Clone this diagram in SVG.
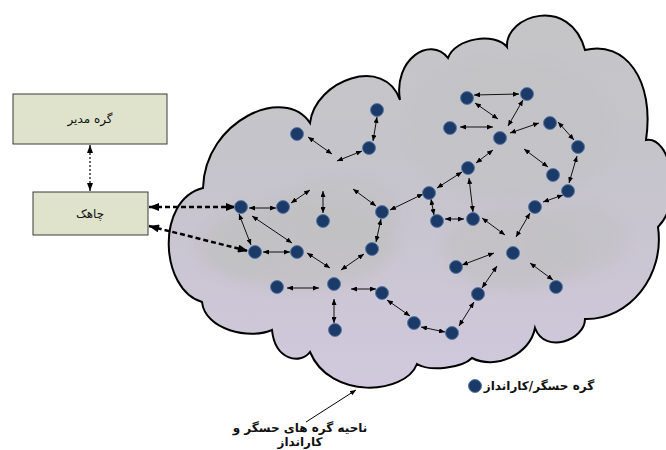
<svg xmlns="http://www.w3.org/2000/svg" width="666" height="450" viewBox="0 0 666 450">
<defs>
<linearGradient id="cloudGrad" x1="0" y1="0" x2="0" y2="1">
<stop offset="0" stop-color="#c5c5c7"/>
<stop offset="0.45" stop-color="#c6c4cc"/>
<stop offset="1" stop-color="#d1c8dd"/>
</linearGradient>
<filter id="blur" x="-30%" y="-30%" width="160%" height="160%">
<feGaussianBlur stdDeviation="6"/>
</filter>
<clipPath id="cloudClip">
<path id="cloudShape" d="M203,188 C205,120 285,85 310,123 C315,80 385,55 400,100 C393,60 430,35 448,58 C455,38 495,32 507,47 C505,15 570,-5 585,50 C625,40 655,80 646,140 C670,135 685,200 658,227 C665,275 630,320 585,319 C585,340 545,355 535,328 C530,355 495,370 472,358 C462,368 430,372 417,364 C405,395 330,400 310,352 C300,365 275,360 272,330 C250,340 205,330 202,302 C160,290 155,200 203,188 Z"/>
</clipPath>
<marker id="ah" viewBox="0 0 6 5" markerWidth="6" markerHeight="5" refX="6" refY="2.5" markerUnits="userSpaceOnUse" orient="auto-start-reverse">
<path d="M0,0 L6,2.5 L0,5 z" fill="#000"/>
</marker>
<marker id="ahBig" viewBox="0 0 10 8" markerWidth="11" markerHeight="8" refX="10" refY="4" markerUnits="userSpaceOnUse" orient="auto-start-reverse">
<path d="M0,0 L10,4 L0,8 z" fill="#000"/>
</marker>
<marker id="ahMid" viewBox="0 0 8 6" markerWidth="8" markerHeight="6" refX="8" refY="3" markerUnits="userSpaceOnUse" orient="auto-start-reverse">
<path d="M0,0 L8,3 L0,6 z" fill="#000"/>
</marker>
<style>
.box{fill:#dfe3cb;stroke:#3a3a3a;stroke-width:1}
.lbl{font-family:"DejaVu Sans","Noto Sans",sans-serif;font-size:12px;fill:#111;text-anchor:middle}
.bold{font-weight:bold}
.node{fill:#1b3a68;stroke:#5a7aa6;stroke-width:1}
.link{stroke:#111;stroke-width:1;fill:none;marker-start:url(#ah);marker-end:url(#ah)}
.dash{stroke:#000;stroke-width:2.5;fill:none;stroke-dasharray:5,3;marker-start:url(#ahBig);marker-end:url(#ahBig)}
.dot{stroke:#000;stroke-width:1.2;fill:none;stroke-dasharray:2,2;marker-start:url(#ahMid);marker-end:url(#ahMid)}
.mist{fill:#c0c0c0;filter:url(#blur)}
</style>
</defs>

<g id="cloud">
<use href="#cloudShape" fill="url(#cloudGrad)"/>
<g clip-path="url(#cloudClip)">
<ellipse class="mist" cx="300" cy="245" rx="95" ry="45" opacity="0.6"/>
<ellipse class="mist" cx="240" cy="248" rx="40" ry="25" opacity="0.5"/>
<ellipse class="mist" cx="340" cy="215" rx="60" ry="35" opacity="0.5"/>
<ellipse class="mist" cx="515" cy="250" rx="70" ry="40" opacity="0.55"/>
<ellipse class="mist" cx="580" cy="240" rx="45" ry="35" opacity="0.4"/>
<ellipse class="mist" cx="510" cy="130" rx="100" ry="70" opacity="0.3"/>
</g>
<use href="#cloudShape" fill="none" stroke="#000" stroke-width="2"/>
</g>

<g id="manager">
<rect class="box" x="13" y="94" width="154" height="50"/>
<text class="lbl" x="90" y="123" font-size="12.5">گره مدیر</text>
</g>
<g id="sink">
<rect class="box" x="33" y="192" width="115" height="43"/>
<text class="lbl" x="90" y="218" font-size="12.5">چاهک</text>
</g>

<g id="connectors">
<line class="dot" x1="90" y1="145" x2="90" y2="191"/>
<line class="dash" x1="149" y1="207" x2="236" y2="207"/>
<line class="dash" x1="149" y1="226" x2="248" y2="251"/>
<line class="link" x1="308" y1="137" x2="332" y2="154"/>
<line class="link" x1="337" y1="161" x2="362" y2="151"/>
<line class="link" x1="377" y1="117" x2="373" y2="141"/>
<line class="link" x1="474" y1="95" x2="519" y2="94"/>
<line class="link" x1="475" y1="103" x2="498" y2="119"/>
<line class="link" x1="523" y1="100" x2="508" y2="126"/>
<line class="link" x1="460" y1="127" x2="493" y2="127"/>
<line class="link" x1="510" y1="133" x2="539" y2="123"/>
<line class="link" x1="558" y1="122" x2="574" y2="140"/>
<line class="link" x1="577" y1="156" x2="569" y2="183"/>
<line class="link" x1="524" y1="149" x2="548" y2="167"/>
<line class="link" x1="493" y1="150" x2="476" y2="163"/>
<line class="link" x1="462" y1="172" x2="437" y2="188"/>
<line class="link" x1="469" y1="178" x2="473" y2="212"/>
<line class="link" x1="249" y1="208" x2="276" y2="208"/>
<line class="link" x1="291" y1="203" x2="310" y2="190"/>
<line class="link" x1="323" y1="191" x2="323" y2="213"/>
<line class="link" x1="353" y1="189" x2="376" y2="206"/>
<line class="link" x1="390" y1="210" x2="423" y2="194"/>
<line class="link" x1="239" y1="214" x2="251" y2="245"/>
<line class="link" x1="252" y1="216" x2="292" y2="243"/>
<line class="link" x1="263" y1="252" x2="290" y2="252"/>
<line class="link" x1="307" y1="253" x2="330" y2="268"/>
<line class="link" x1="341" y1="270" x2="364" y2="254"/>
<line class="link" x1="381" y1="219" x2="376" y2="242"/>
<line class="link" x1="431" y1="199" x2="434" y2="215"/>
<line class="link" x1="445" y1="219" x2="464" y2="219"/>
<line class="link" x1="482" y1="218" x2="505" y2="235"/>
<line class="link" x1="516" y1="237" x2="530" y2="213"/>
<line class="link" x1="543" y1="202" x2="563" y2="195"/>
<line class="link" x1="494" y1="253" x2="462" y2="265"/>
<line class="link" x1="530" y1="263" x2="553" y2="280"/>
<line class="link" x1="497" y1="266" x2="482" y2="288"/>
<line class="link" x1="474" y1="302" x2="459" y2="326"/>
<line class="link" x1="421" y1="327" x2="445" y2="332"/>
<line class="link" x1="387" y1="300" x2="410" y2="316"/>
<line class="link" x1="287" y1="288" x2="319" y2="288"/>
<line class="link" x1="351" y1="289" x2="376" y2="289"/>
<line class="link" x1="334" y1="299" x2="334" y2="323"/>
<line stroke="#000" stroke-width="1" x1="306" y1="422" x2="356" y2="390" marker-end="url(#ah)"/>
</g>

<g id="nodes">
<circle id="n1" class="node" cx="377" cy="110" r="6.5"/>
<circle id="n2" class="node" cx="297" cy="134" r="6.5"/>
<circle id="n3" class="node" cx="369" cy="148" r="6.5"/>
<circle id="n4" class="node" cx="467" cy="98" r="6.5"/>
<circle id="n5" class="node" cx="527" cy="94" r="6.5"/>
<circle id="n6" class="node" cx="450" cy="128" r="6.5"/>
<circle id="n7" class="node" cx="500" cy="138" r="6.5"/>
<circle id="n8" class="node" cx="550" cy="123" r="6.5"/>
<circle id="n9" class="node" cx="578" cy="147" r="6.5"/>
<circle id="n10" class="node" cx="553" cy="175" r="6.5"/>
<circle id="n11" class="node" cx="468" cy="168" r="6.5"/>
<circle id="n12" class="node" cx="568" cy="191" r="6.5"/>
<circle id="n13" class="node" cx="429" cy="193" r="6.5"/>
<circle id="n14" class="node" cx="241" cy="207" r="6.5"/>
<circle id="n15" class="node" cx="283" cy="207" r="6.5"/>
<circle id="n16" class="node" cx="323" cy="221" r="6.5"/>
<circle id="n17" class="node" cx="382" cy="212" r="6.5"/>
<circle id="n18" class="node" cx="437" cy="221" r="6.5"/>
<circle id="n19" class="node" cx="473" cy="219" r="6.5"/>
<circle id="n20" class="node" cx="535" cy="207" r="6.5"/>
<circle id="n22" class="node" cx="255" cy="252" r="6.5"/>
<circle id="n23" class="node" cx="297" cy="252" r="6.5"/>
<circle id="n24" class="node" cx="372" cy="249" r="6.5"/>
<circle id="n25" class="node" cx="513" cy="253" r="6.5"/>
<circle id="n26" class="node" cx="456" cy="267" r="6.5"/>
<circle id="n27" class="node" cx="277" cy="287" r="6.5"/>
<circle id="n28" class="node" cx="334" cy="284" r="6.5"/>
<circle id="n29" class="node" cx="382" cy="293" r="6.5"/>
<circle id="n30" class="node" cx="478" cy="294" r="6.5"/>
<circle id="n31" class="node" cx="556" cy="287" r="6.5"/>
<circle id="n32" class="node" cx="335" cy="330" r="6.5"/>
<circle id="n33" class="node" cx="414" cy="323" r="6.5"/>
<circle id="n34" class="node" cx="452" cy="333" r="6.5"/>
</g>

<g id="legend">
<circle class="node" cx="475" cy="386" r="6.5"/>
<text class="lbl bold" x="539" y="390" font-size="10.5">گره حسگر/کارانداز</text>
</g>

<g id="region-label">
<text class="lbl bold" x="300" y="432" font-size="11.5">ناحیه گره های حسگر و</text>
<text class="lbl bold" x="300" y="446" font-size="11.5">کارانداز</text>
</g>
</svg>
